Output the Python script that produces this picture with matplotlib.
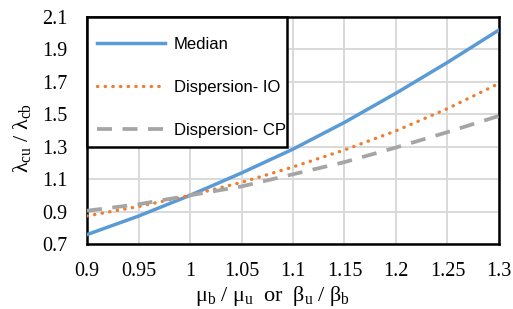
import matplotlib
matplotlib.use("Agg")
import matplotlib.pyplot as plt
from matplotlib.patches import Rectangle

# values
ratio = [0.9, 0.95, 1.0, 1.05, 1.1, 1.15, 1.2, 1.25, 1.3]
median = [0.758, 0.872, 1.0, 1.138, 1.285, 1.45, 1.63, 1.82, 2.02]
disp_io = [0.873, 0.931, 1.0, 1.08, 1.175, 1.28, 1.398, 1.535, 1.69]
disp_cp = [0.905, 0.945, 1.0, 1.055, 1.13, 1.205, 1.295, 1.39, 1.49]

xticks = [0.9, 0.95, 1, 1.05, 1.1, 1.15, 1.2, 1.25, 1.3]
xticklabels = ["0.9", "0.95", "1", "1.05", "1.1", "1.15", "1.2", "1.25", "1.3"]
yticks = [0.7, 0.9, 1.1, 1.3, 1.5, 1.7, 1.9, 2.1]

plt.rcParams["mathtext.fontset"] = "custom"
plt.rcParams["mathtext.rm"] = "Liberation Serif"
plt.rcParams["mathtext.it"] = "Liberation Serif:italic"

fig = plt.figure(figsize=(5.13, 3.09), dpi=100)
ax = fig.add_axes([0.1696, 0.2104, 0.8031, 0.7346])

ax.plot(ratio, median, color="#5b9bd5", lw=2.5, label="Median", zorder=3)
ax.plot(ratio, disp_io, color="#ed7d31", lw=2.4, ls=(0, (0.1, 2.2)),
        dash_capstyle="round", label="Dispersion- IO", zorder=3)
ax.plot(ratio, disp_cp, color="#a5a5a5", lw=2.7, ls=(0, (4.0, 2.8)),
        label="Dispersion- CP", zorder=3)

ax.set_xlim(0.9, 1.3)
ax.set_ylim(0.7, 2.1)
ax.set_xticks(xticks)
ax.set_xticklabels(xticklabels)
ax.set_yticks(yticks)
ax.set_yticklabels([f"{v:.1f}" for v in yticks])
ax.grid(True, color="#d9d9d9", lw=1.4, zorder=0)
ax.set_axisbelow(True)
ax.tick_params(length=0, labelsize=14.5)
ax.tick_params(axis="y", pad=14)
ax.tick_params(axis="x", pad=13)
for lab in ax.get_xticklabels() + ax.get_yticklabels():
    lab.set_fontfamily("Liberation Serif")
for s in ax.spines.values():
    s.set_linewidth(1.8)
    s.set_color("black")

ax.set_xlabel(r"$\mathrm{\mu_b\ /\ \mu_u\ \ or\ \ \beta_u\ /\ \beta_b}$",
              fontsize=16)
ax.xaxis.set_label_coords(0.449, -0.175)
ax.set_ylabel(r"$\mathrm{\lambda_{cu}\ /\ \lambda_{cb}}$", fontsize=16)
ax.yaxis.set_label_coords(-0.13, 0.467)

# legend box
box = Rectangle((0, 0.4273), 0.4854, 0.5727, transform=ax.transAxes,
                facecolor="white", edgecolor="black", lw=1.8, zorder=4,
                clip_on=False)
ax.add_patch(box)
leg = ax.legend(loc="upper left", bbox_to_anchor=(0, 0.958), borderaxespad=0,
                prop={"family": "Liberation Sans", "size": 12},
                handlelength=4.1, handletextpad=0.5, labelspacing=1.69,
                borderpad=0.6, frameon=False)
leg.set_zorder(5)

fig.savefig("out.png", dpi=100)
